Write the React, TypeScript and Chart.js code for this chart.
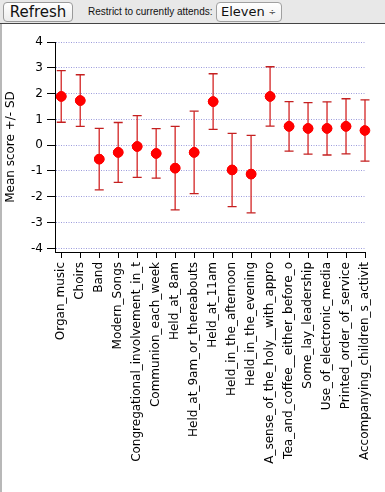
import React, { useEffect, useRef } from "react";
import { Chart, registerables } from "chart.js";

Chart.register(...registerables);

const categories = [
  "Organ_music",
  "Choirs",
  "Band",
  "Modern_Songs",
  "Congregational_involvement_in_t",
  "Communion_each_week",
  "Held_at_8am",
  "Held_at_9am_or_thereabouts",
  "Held_at_11am",
  "Held_in_the_afternoon",
  "Held_in_the_evening",
  "A_sense_of_the_holy__with_appro",
  "Tea_and_coffee__either_before_o",
  "Some_lay_leadership",
  "Use_of_electronic_media",
  "Printed_order_of_service",
  "Accompanying_children_s_activit",
];

const means = [1.89, 1.73, -0.54, -0.28, -0.05, -0.32, -0.89, -0.28, 1.69, -0.96, -1.12, 1.89, 0.73, 0.65, 0.65, 0.73, 0.57];
const sds = [1.0, 1.0, 1.19, 1.16, 1.2, 0.96, 1.62, 1.6, 1.08, 1.42, 1.5, 1.15, 0.96, 1.0, 1.03, 1.07, 1.19];

const yTicks = [-4, -3, -2, -1, 0, 1, 2, 3, 4];

const FONT = "'DejaVu Sans', sans-serif";

const errorBarPlugin = {
  id: "errorBars",
  afterDatasetsDraw(chart: any) {
    const { ctx, scales } = chart;
    const xs = scales.x;
    const ys = scales.y;
    ctx.save();
    means.forEach((m, i) => {
      const x = xs.getPixelForValue(i);
      const yt = ys.getPixelForValue(m + sds[i]);
      const yb = ys.getPixelForValue(m - sds[i]);
      ctx.strokeStyle = "rgba(210,30,30,0.85)";
      ctx.lineWidth = 1.5;
      ctx.beginPath();
      ctx.moveTo(x, yt);
      ctx.lineTo(x, yb);
      ctx.stroke();
      ctx.strokeStyle = "#c42020";
      ctx.lineWidth = 1.3;
      ctx.beginPath();
      ctx.moveTo(x - 4.5, yt);
      ctx.lineTo(x + 4.5, yt);
      ctx.moveTo(x - 4.5, yb);
      ctx.lineTo(x + 4.5, yb);
      ctx.stroke();
    });
    ctx.restore();
    const meta = chart.getDatasetMeta(0);
    meta.data.forEach((p: any) => p.draw(chart.ctx, chart.chartArea));
  },
};

export default function App() {
  const ref = useRef<HTMLCanvasElement>(null);

  useEffect(() => {
    if (!ref.current) return;
    const chart = new Chart(ref.current, {
      type: "scatter",
      data: {
        datasets: [
          {
            data: means.map((m, i) => ({ x: i, y: m })),
            backgroundColor: "#ff0000",
            borderColor: "#ff0000",
            pointRadius: 4.8,
            showLine: false,
          },
        ],
      },
      plugins: [errorBarPlugin],
      options: {
        animation: false,
        responsive: false,
        layout: { padding: { top: 18, right: 20, left: 0, bottom: 0 } },
        plugins: {
          legend: { display: false },
          tooltip: { enabled: false },
        },
        scales: {
          x: {
            type: "linear",
            min: -0.33,
            max: 16,
            afterBuildTicks: (s: any) => {
              s.ticks = categories.map((_, i) => ({ value: i }));
            },
            afterFit: (s: any) => {
              s.height = 240;
            },
            grid: {
              drawOnChartArea: false,
              drawTicks: true,
              tickLength: 6,
              tickColor: "#000",
              tickWidth: 1,
            },
            border: { color: "#000", width: 1 },
            ticks: {
              autoSkip: false,
              minRotation: 90,
              maxRotation: 90,
              padding: 4,
              color: "#000",
              font: { family: FONT, size: 12 },
              callback: (v: any) => categories[v] ?? "",
            },
          },
          y: {
            min: -4.14,
            max: 4,
            afterBuildTicks: (s: any) => {
              s.ticks = yTicks.map((v) => ({ value: v }));
            },
            afterFit: (s: any) => {
              s.width = 55;
            },
            grid: {
              color: "#9c9cdc",
              lineWidth: 1,
              tickLength: 8,
              tickColor: "#000",
              tickWidth: 1,
            },
            border: { color: "#000", width: 1, dash: [1, 1.5] },
            ticks: {
              padding: 4,
              color: "#000",
              font: { family: FONT, size: 12 },
            },
            title: {
              display: true,
              text: "Mean score +/- SD",
              color: "#000",
              font: { family: FONT, size: 12 },
              padding: { top: 4, bottom: 0 },
            },
          },
        },
      },
    });
    return () => chart.destroy();
  }, []);

  return (
    <div style={{ position: "fixed", left: 0, top: 0, width: 385, height: 492, background: "#fff", fontFamily: FONT, overflow: "hidden" }}>
      <div
        style={{
          position: "absolute",
          left: 0,
          top: 0,
          width: 385,
          height: 23,
          background: "#e8e8e8",
          borderBottom: "1px solid #444",
        }}
      >
        <div
          style={{
            position: "absolute",
            left: 3,
            top: 2,
            width: 68,
            height: 18,
            background: "linear-gradient(#ffffff, #ececec)",
            border: "1px solid #9a9a9a",
            borderRadius: 4,
            fontSize: 15,
            lineHeight: "18px",
            textAlign: "center",
            color: "#111",
            fontFamily: "'DejaVu Sans', sans-serif",
          }}
        >
          Refresh
        </div>
        <div
          style={{
            position: "absolute",
            left: 88,
            top: 6,
            fontSize: 10,
            color: "#111",
            fontFamily: "'Liberation Sans', sans-serif",
          }}
        >
          Restrict to currently attends:
        </div>
        <div
          style={{
            position: "absolute",
            left: 216,
            top: 2,
            width: 64,
            height: 18,
            background: "linear-gradient(#ffffff, #f0f0f0)",
            border: "1px solid #a0a0a0",
            borderRadius: 4,
            fontSize: 13,
            lineHeight: "18px",
            color: "#111",
            fontFamily: "'DejaVu Sans', sans-serif",
          }}
        >
          <span style={{ position: "absolute", left: 4 }}>Eleven</span>
          <span style={{ position: "absolute", right: 5, fontSize: 9, color: "#444" }}>÷</span>
        </div>
      </div>
      <div style={{ position: "absolute", left: 0, top: 24, width: 2, height: 468, background: "#b8b8b8" }} />
      <canvas ref={ref} width={385} height={468} style={{ position: "absolute", left: 0, top: 24, width: 385, height: 468 }} />
    </div>
  );
}
